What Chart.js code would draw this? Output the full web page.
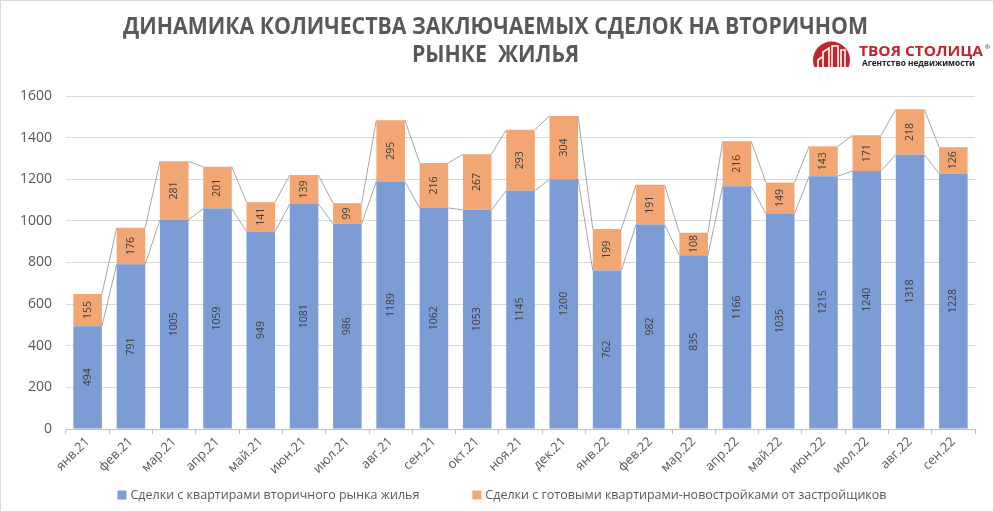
<!DOCTYPE html>
<html>
<head>
<meta charset="utf-8">
<script src="https://cdn.jsdelivr.net/npm/chart.js@4.4.1/dist/chart.umd.min.js"></script>
<style>
    html, body { margin: 0; padding: 0; background: #fff; }
    canvas { display: block; }
</style>
</head>
<body>
<canvas id="chart" width="994" height="512"></canvas>
<script>
// ── DATA ──────────────────────────────────────────────────────────────────────

const MONTHS = ['янв.21', 'фев.21', 'мар.21', 'апр.21', 'май.21', 'июн.21', 'июл.21', 'авг.21', 'сен.21', 'окт.21', 'ноя.21', 'дек.21',
    'янв.22', 'фев.22', 'мар.22', 'апр.22', 'май.22', 'июн.22', 'июл.22', 'авг.22', 'сен.22'];
const SECONDARY = [494, 791, 1005, 1059, 949, 1081, 986, 1189, 1062, 1053, 1145, 1200, 762, 982, 835, 1166, 1035, 1215, 1240, 1318, 1228];
const NEW_BUILD = [155, 176, 281, 201, 141, 139, 99, 295, 216, 267, 293, 304, 199, 191, 108, 216, 149, 143, 171, 218, 126];
const SERIES_NAMES = ['Сделки с квартирами вторичного рынка жилья', 'Сделки с готовыми квартирами-новостройками от застройщиков'];
const TITLE_LINES = ['ДИНАМИКА КОЛИЧЕСТВА ЗАКЛЮЧАЕМЫХ СДЕЛОК НА ВТОРИЧНОМ', 'РЫНКЕ  ЖИЛЬЯ'];
const BRAND = 'ТВОЯ СТОЛИЦА';
const BRAND_SUB = 'Агентство недвижимости';
const Y_MAX = 1600;
const Y_STEP = 200;

const BLUE = '#7b9cd5';
const ORANGE = '#f1a673';
const TEXT = '#595959';
const LABEL = '#404040';
const GRID = '#d9d9d9';
const AXIS = '#bfbfbf';
const SERIES_LINE = '#a6a6a6';
const RED = '#c0272d';
const FONT = '"Open Sans", sans-serif';

// ── PLUGINS ───────────────────────────────────────────────────────────────────

// Excel-style series lines joining the tops of neighbouring stacked bars
const seriesLines = {
    id: 'seriesLines',
    beforeDatasetsDraw(chart) {
        const ctx = chart.ctx;
        ctx.save();
        ctx.strokeStyle = SERIES_LINE;
        ctx.lineWidth = 1;
        chart.data.datasets.forEach((_, d) => {
            const bars = chart.getDatasetMeta(d).data;
            for (let i = 0; i < bars.length - 1; i++) {
                const a = bars[i], b = bars[i + 1];
                ctx.beginPath();
                ctx.moveTo(a.x + a.width / 2, a.y);
                ctx.lineTo(b.x - b.width / 2, b.y);
                ctx.stroke();
            }
        });
        ctx.restore();
    }
};

// vertical value labels in the middle of each segment
const barLabels = {
    id: 'barLabels',
    afterDatasetsDraw(chart) {
        const ctx = chart.ctx;
        ctx.save();
        ctx.fillStyle = LABEL;
        ctx.font = `10.5px ${FONT}`;
        ctx.textAlign = 'center';
        ctx.textBaseline = 'middle';
        chart.data.datasets.forEach((ds, d) => {
            chart.getDatasetMeta(d).data.forEach((bar, i) => {
                ctx.save();
                ctx.translate(bar.x, (bar.y + bar.base) / 2);
                ctx.rotate(-Math.PI / 2);
                ctx.fillText(String(ds.data[i]), 0, 0);
                ctx.restore();
            });
        });
        ctx.restore();
    }
};

// title, logo, legend and frame
const decor = {
    id: 'decor',
    afterDraw(chart) {
        const ctx = chart.ctx;
        ctx.save();

        // frame
        ctx.strokeStyle = GRID;
        ctx.lineWidth = 1;
        ctx.strokeRect(0.5, 0.5, chart.width - 1, chart.height - 1);

        // title, squeezed to the reference width
        ctx.fillStyle = TEXT;
        ctx.font = `bold 24px ${FONT}`;
        ctx.textAlign = 'center';
        ctx.textBaseline = 'alphabetic';
        const sx = 745 / ctx.measureText(TITLE_LINES[0]).width;
        [34, 62].forEach((y, k) => {
            ctx.save();
            ctx.translate(495.5, y);
            ctx.scale(sx, 1);
            ctx.fillText(TITLE_LINES[k], 0, 0);
            ctx.restore();
        });

        // logo
        ctx.save();
        ctx.beginPath();
        ctx.rect(800, 30, 60, 37);
        ctx.clip();
        ctx.fillStyle = RED;
        ctx.beginPath();
        ctx.arc(831.5, 60, 18.5, 0, Math.PI * 2);
        ctx.fill();
        ctx.strokeStyle = '#fff';
        ctx.lineWidth = 1.6;
        ctx.beginPath();
        ctx.moveTo(823, 67); ctx.lineTo(823, 52); ctx.lineTo(829, 48); ctx.lineTo(829, 67);
        ctx.moveTo(832, 67); ctx.lineTo(832, 46); ctx.lineTo(838, 46); ctx.lineTo(838, 67);
        ctx.moveTo(841, 67); ctx.lineTo(841, 50); ctx.lineTo(845, 50); ctx.lineTo(845, 67);
        ctx.moveTo(818, 67); ctx.lineTo(818, 60); ctx.lineTo(822, 57);
        ctx.stroke();
        ctx.restore();

        ctx.textAlign = 'left';
        ctx.fillStyle = RED;
        ctx.font = `bold 15px ${FONT}`;
        const bw = ctx.measureText(BRAND).width;
        ctx.save();
        ctx.translate(859, 56);
        ctx.scale(124 / bw, 1);
        ctx.fillText(BRAND, 0, 0);
        ctx.restore();
        ctx.font = `bold 6px ${FONT}`;
        ctx.fillText('®', 985, 49);
        ctx.fillStyle = '#222';
        ctx.font = `bold 8.5px ${FONT}`;
        const sw = ctx.measureText(BRAND_SUB).width;
        ctx.save();
        ctx.translate(862, 66);
        ctx.scale(113 / sw, 1);
        ctx.fillText(BRAND_SUB, 0, 0);
        ctx.restore();

        // legend
        ctx.font = `12.5px ${FONT}`;
        ctx.textBaseline = 'middle';
        const colors = [BLUE, ORANGE];
        const widths = SERIES_NAMES.map(n => ctx.measureText(n).width);
        const gap = 53, box = 9, pad = 4;
        const total = widths.reduce((a, w) => a + box + pad + w, 0) + gap;
        let x = 502 - total / 2;
        const y = 495;
        SERIES_NAMES.forEach((name, k) => {
            ctx.fillStyle = colors[k];
            ctx.fillRect(x, y - box / 2, box, box);
            ctx.fillStyle = TEXT;
            ctx.fillText(name, x + box + pad, y);
            x += box + pad + widths[k] + gap;
        });

        ctx.restore();
    }
};

// ── CHART ─────────────────────────────────────────────────────────────────────

new Chart(document.getElementById('chart'), {
    type: 'bar',
    data: {
        labels: MONTHS,
        datasets: [
            { label: SERIES_NAMES[0], data: SECONDARY, backgroundColor: BLUE, categoryPercentage: 1, barPercentage: 0.66 },
            { label: SERIES_NAMES[1], data: NEW_BUILD, backgroundColor: ORANGE, categoryPercentage: 1, barPercentage: 0.66 }
        ]
    },
    options: {
        responsive: false, animation: false, devicePixelRatio: 1,
        layout: { padding: { top: 96, right: 19, bottom: 33, left: 0 } },
        plugins: { legend: { display: false }, title: { display: false }, tooltip: { enabled: false } },
        scales: {
            x: {
                stacked: true,
                afterFit: s => { s.height = 50; },
                grid: { offset: true, drawOnChartArea: false, tickLength: 5, color: AXIS },
                border: { color: AXIS },
                ticks: { color: TEXT, font: { family: FONT, size: 13 }, minRotation: 45, maxRotation: 45, padding: 0, autoSkip: false }
            },
            y: {
                stacked: true, min: 0, max: Y_MAX,
                afterFit: s => { s.width = 66; },
                grid: { color: GRID, drawTicks: false },
                border: { display: false },
                ticks: { stepSize: Y_STEP, color: TEXT, font: { family: FONT, size: 14 }, padding: 14, callback: v => String(v) }
            }
        }
    },
    plugins: [seriesLines, barLabels, decor]
});
</script>
</body>
</html>
